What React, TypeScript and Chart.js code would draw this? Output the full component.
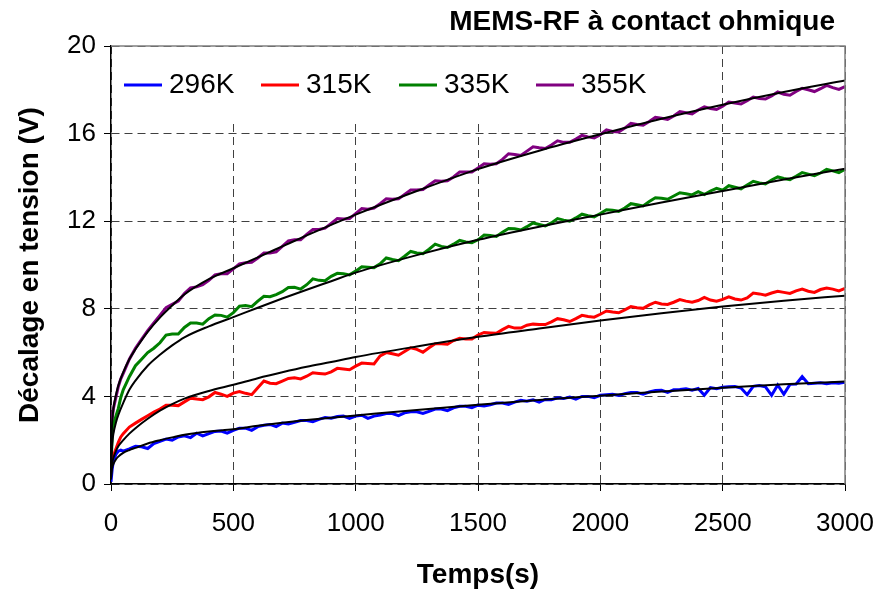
import React, { useEffect, useRef } from 'react';
import { Chart, registerables } from 'chart.js';

Chart.register(...registerables);

// ---- data (time in s, voltage shift in V) ----
const TIME = [0, 5, 10, 20, 30, 40, 50, 75, 100, 125, 150, 175, 200,
  225, 250, 275, 300, 325, 350, 375, 400,
  425, 450, 475, 500, 525, 550, 575, 600,
  625, 650, 675, 700, 725, 750, 775, 800,
  825, 850, 875, 900, 925, 950, 975, 1000,
  1025, 1050, 1075, 1100, 1125, 1150, 1175, 1200,
  1225, 1250, 1275, 1300, 1325, 1350, 1375, 1400,
  1425, 1450, 1475, 1500, 1525, 1550, 1575, 1600,
  1625, 1650, 1675, 1700, 1725, 1750, 1775, 1800,
  1825, 1850, 1875, 1900, 1925, 1950, 1975, 2000,
  2025, 2050, 2075, 2100, 2125, 2150, 2175, 2200,
  2225, 2250, 2275, 2300, 2325, 2350, 2375, 2400,
  2425, 2450, 2475, 2500, 2525, 2550, 2575, 2600,
  2625, 2650, 2675, 2700, 2725, 2750, 2775, 2800,
  2825, 2850, 2875, 2900, 2925, 2950, 2975, 3000];

const V296 = [0.1, 0.7, 1.05, 1.35, 1.5, 1.55, 1.5, 1.6, 1.72, 1.7, 1.62, 1.85, 1.95,
  2.05, 2.0, 2.15, 2.2, 2.12, 2.32, 2.2, 2.3,
  2.4, 2.42, 2.32, 2.45, 2.55, 2.55, 2.45, 2.62,
  2.68, 2.72, 2.62, 2.78, 2.74, 2.82, 2.9, 2.9,
  2.84, 2.95, 3.04, 3.0, 3.08, 3.1, 3.0, 3.1,
  3.14, 3.0, 3.1, 3.15, 3.22, 3.22, 3.12, 3.25,
  3.3, 3.3, 3.22, 3.32, 3.42, 3.42, 3.35, 3.48,
  3.55, 3.55, 3.48, 3.6, 3.56, 3.62, 3.7, 3.7,
  3.63, 3.74, 3.82, 3.78, 3.84, 3.74, 3.86, 3.85,
  3.94, 3.9, 3.97, 3.88, 4.0, 4.0, 3.94, 4.05,
  4.08, 4.1, 4.04, 4.12, 4.18, 4.18, 4.1, 4.2,
  4.27, 4.28, 4.18, 4.3, 4.32, 4.35, 4.28, 4.36,
  4.05, 4.4, 4.35, 4.42, 4.44, 4.45, 4.38, 4.08,
  4.46, 4.5, 4.44, 4.05, 4.52, 4.1, 4.55, 4.56,
  4.9, 4.58, 4.6, 4.62, 4.58, 4.62, 4.6, 4.65];

const V315 = [0.4, 1.0, 1.3, 1.6, 1.9, 2.15, 2.3, 2.6, 2.78, 2.95, 3.12, 3.28, 3.42,
  3.6, 3.6, 3.58, 3.75, 3.92, 3.88, 3.85, 3.98,
  4.18, 4.1, 4.0, 4.15, 4.22, 4.14, 4.08, 4.4,
  4.7, 4.6, 4.58, 4.7, 4.82, 4.85, 4.8, 4.92,
  5.08, 5.05, 5.02, 5.12, 5.28, 5.25, 5.22, 5.38,
  5.52, 5.5, 5.48, 5.85, 6.0, 5.95, 5.88, 6.05,
  6.22, 6.15, 6.02, 6.22, 6.4, 6.4, 6.38, 6.55,
  6.65, 6.62, 6.62, 6.8, 6.92, 6.9, 6.88, 7.05,
  7.2, 7.12, 7.12, 7.25, 7.3, 7.28, 7.28, 7.4,
  7.55, 7.5, 7.42, 7.55, 7.7, 7.65, 7.62, 7.75,
  7.9, 7.85, 7.82, 7.95, 8.1, 8.05, 8.02, 8.18,
  8.3, 8.22, 8.2, 8.3, 8.42, 8.35, 8.3, 8.38,
  8.52, 8.4, 8.35, 8.43, 8.55, 8.45, 8.4, 8.5,
  8.72, 8.68, 8.62, 8.72, 8.8, 8.75, 8.7, 8.82,
  8.9, 8.8, 8.75, 8.88, 8.95, 8.9, 8.82, 8.93];

const V335 = [0.8, 2.2, 2.7, 3.1, 3.45, 3.95, 4.3, 4.9, 5.4, 5.7, 6.0, 6.2, 6.45,
  6.8, 6.85, 6.85, 7.15, 7.35, 7.35, 7.3, 7.55,
  7.72, 7.7, 7.62, 7.82, 8.12, 8.15, 8.1, 8.35,
  8.57, 8.55, 8.65, 8.78, 8.97, 8.98, 8.9, 9.1,
  9.37, 9.3, 9.28, 9.48, 9.62, 9.6, 9.55, 9.72,
  9.92, 9.9, 9.88, 10.05, 10.32, 10.25, 10.2, 10.4,
  10.62, 10.55, 10.52, 10.72, 10.95, 10.85, 10.8, 10.95,
  11.12, 11.05, 11.02, 11.15, 11.37, 11.35, 11.3, 11.5,
  11.67, 11.65, 11.6, 11.75, 11.92, 11.85, 11.78, 11.92,
  12.12, 12.05, 12.0, 12.15, 12.32, 12.25, 12.2, 12.35,
  12.52, 12.5, 12.45, 12.6, 12.8, 12.75, 12.7, 12.9,
  13.07, 13.05, 13.0, 13.15, 13.3, 13.25, 13.2, 13.35,
  13.22, 13.38, 13.5, 13.42, 13.62, 13.55, 13.48, 13.65,
  13.82, 13.75, 13.7, 13.88, 14.02, 13.95, 13.9, 14.05,
  14.22, 14.15, 14.08, 14.2, 14.37, 14.3, 14.22, 14.37];

const V355 = [1.0, 3.0, 3.45, 3.95, 4.45, 4.8, 5.05, 5.7, 6.2, 6.6, 7.0, 7.35, 7.7,
  8.05, 8.2, 8.35, 8.7, 8.95, 9.0, 9.1, 9.3,
  9.55, 9.6, 9.6, 9.82, 10.05, 10.1, 10.12, 10.32,
  10.55, 10.55, 10.6, 10.85, 11.1, 11.15, 11.15, 11.4,
  11.62, 11.62, 11.68, 11.9, 12.12, 12.1, 12.12, 12.35,
  12.58, 12.55, 12.6, 12.8, 13.02, 13.0, 13.02, 13.22,
  13.42, 13.42, 13.45, 13.65, 13.85, 13.82, 13.85, 14.02,
  14.25, 14.25, 14.25, 14.43, 14.62, 14.6, 14.62, 14.82,
  15.08, 15.05, 15.0, 15.2, 15.4, 15.35, 15.32, 15.48,
  15.67, 15.6, 15.6, 15.75, 15.92, 15.85, 15.8, 15.95,
  16.17, 16.1, 16.08, 16.25, 16.47, 16.42, 16.38, 16.55,
  16.74, 16.7, 16.65, 16.8, 17.0, 16.95, 16.9, 17.08,
  17.22, 17.15, 17.1, 17.25, 17.44, 17.4, 17.35, 17.5,
  17.67, 17.6, 17.58, 17.72, 17.9, 17.8, 17.75, 17.92,
  18.07, 18.0, 17.92, 18.05, 18.2, 18.1, 18.02, 18.15];

// fitted curves (black)
const FIT_TIME = [0, 2, 5, 10, 20, 30, 50, 75, 100, 150, 200, 250, 300, 400, 500, 600, 700, 800, 900, 1000,
  1250, 1500, 1750, 2000, 2250, 2500, 2750, 3000];
const FIT296 = [0.3, 0.55, 0.75, 0.92, 1.12, 1.25, 1.42, 1.55, 1.65, 1.85, 2.0, 2.13, 2.25, 2.4, 2.5, 2.66, 2.8, 2.92, 3.03, 3.13,
  3.38, 3.62, 3.84, 4.03, 4.22, 4.4, 4.55, 4.68];
const FIT315 = [0.2, 0.6, 0.95, 1.2, 1.5, 1.72, 2.0, 2.3, 2.55, 2.98, 3.35, 3.65, 3.9, 4.25, 4.53, 4.83, 5.1, 5.35, 5.57, 5.8,
  6.28, 6.72, 7.1, 7.47, 7.8, 8.1, 8.37, 8.6];
const FIT335 = [0.3, 1.2, 1.85, 2.3, 2.8, 3.15, 3.7, 4.3, 4.72, 5.4, 5.9, 6.33, 6.7, 7.2, 7.62, 8.05, 8.47, 8.87, 9.26, 9.65,
  10.45, 11.15, 11.75, 12.3, 12.85, 13.38, 13.9, 14.4];
const FIT355 = [0.5, 2.0, 2.85, 3.45, 4.05, 4.5, 5.1, 5.7, 6.15, 6.95, 7.6, 8.15, 8.65, 9.35, 9.85, 10.35, 10.85, 11.35, 11.83, 12.3,
  13.38, 14.38, 15.22, 15.97, 16.68, 17.32, 17.9, 18.42];

const SERIES_LABELS = ['296K', '315K', '335K', '355K'];
const SERIES_COLORS = ['#0000ff', '#ff0000', '#008000', '#800080'];
const SERIES_DATA = [V296, V315, V335, V355];
const FIT_DATA = [FIT296, FIT315, FIT335, FIT355];

const TITLE = 'MEMS-RF à contact ohmique';
const X_TITLE = 'Temps(s)';
const Y_TITLE = 'Décalage en tension (V)';

const FONT = '"Liberation Sans", Arial, sans-serif';

const toPoints = (xs: number[], ys: number[]) => xs.map((x, i) => ({ x, y: ys[i] }));

const decorPlugin = {
  id: 'decor',
  beforeDatasetsDraw(chart: any) {
    const { ctx, chartArea } = chart;
    ctx.save();
    ctx.fillStyle = '#ffffff';
    ctx.fillRect(chartArea.left + 1, chartArea.top + 1, 660 - chartArea.left, 121 - chartArea.top);
    const lineStarts = [124, 261, 399, 536];
    ctx.font = `28px ${FONT}`;
    ctx.textBaseline = 'middle';
    ctx.textAlign = 'left';
    SERIES_LABELS.forEach((lab, i) => {
      ctx.strokeStyle = SERIES_COLORS[i];
      ctx.lineWidth = 3;
      ctx.beginPath();
      ctx.moveTo(lineStarts[i], 85);
      ctx.lineTo(lineStarts[i] + 38, 85);
      ctx.stroke();
      ctx.fillStyle = '#000';
      ctx.fillText(lab, lineStarts[i] + 45, 85);
    });
    ctx.restore();
  },
  afterDraw(chart: any) {
    const { ctx, chartArea } = chart;
    ctx.save();
    ctx.strokeStyle = '#808080';
    ctx.lineWidth = 1.5;
    ctx.beginPath();
    ctx.moveTo(chartArea.left, chartArea.top);
    ctx.lineTo(chartArea.right, chartArea.top);
    ctx.lineTo(chartArea.right, chartArea.bottom);
    ctx.stroke();
    ctx.fillStyle = '#000';
    ctx.font = `bold 28px ${FONT}`;
    ctx.textAlign = 'right';
    ctx.textBaseline = 'middle';
    ctx.fillText(TITLE, 835, 22);
    ctx.textAlign = 'center';
    ctx.fillText(X_TITLE, 478, 575);
    ctx.translate(30, 265);
    ctx.rotate(-Math.PI / 2);
    ctx.fillText(Y_TITLE, 0, 0);
    ctx.restore();
  },
};

export default function App() {
  const ref = useRef<HTMLCanvasElement | null>(null);
  useEffect(() => {
    if (!ref.current) return;
    const datasets: any[] = [];
    SERIES_DATA.forEach((vals, i) => {
      datasets.push({
        label: SERIES_LABELS[i],
        data: toPoints(TIME, vals),
        borderColor: SERIES_COLORS[i],
        backgroundColor: SERIES_COLORS[i],
        borderWidth: 3,
        pointRadius: 0,
        tension: 0,
        order: 2,
      });
    });
    FIT_DATA.forEach((vals, i) => {
      datasets.push({
        label: 'fit ' + SERIES_LABELS[i],
        data: toPoints(FIT_TIME, vals),
        borderColor: '#000000',
        borderWidth: 2,
        pointRadius: 0,
        cubicInterpolationMode: 'monotone',
        order: 1,
      });
    });
    const chart = new Chart(ref.current, {
      type: 'line',
      data: { datasets },
      options: {
        animation: false,
        responsive: false,
        devicePixelRatio: 1,
        layout: { padding: { top: 46, right: 35, left: 0, bottom: 0 } },
        plugins: { legend: { display: false }, tooltip: { enabled: false }, title: { display: false } },
        scales: {
          x: {
            type: 'linear',
            min: 0,
            max: 3000,
            afterFit: (s: any) => { s.height = 108; s.paddingRight = 30; s.paddingLeft = 30; },
            ticks: { stepSize: 500, color: '#000', font: { family: FONT, size: 26 }, padding: 17, maxRotation: 0,
              callback: (v: any) => String(v) },
            grid: { color: '#404040', lineWidth: 1, tickColor: '#000', tickLength: 7, tickWidth: 1 },
            border: { display: true, color: '#000', width: 1.5, dash: [8, 5] },
          },
          y: {
            type: 'linear',
            min: 0,
            max: 20,
            afterFit: (s: any) => { s.width = 111; },
            ticks: { stepSize: 4, color: '#000', font: { family: FONT, size: 26 }, padding: 8,
              callback: (v: any) => String(v) },
            grid: { color: '#404040', lineWidth: 1, tickColor: '#000', tickLength: 7, tickWidth: 1 },
            border: { display: true, color: '#000', width: 1.5, dash: [8, 5] },
          },
        },
      },
      plugins: [decorPlugin],
    });
    return () => chart.destroy();
  }, []);
  return (
    <div style={{ position: 'fixed', left: 0, top: 0, width: 880, height: 592, background: '#fff' }}>
      <canvas ref={ref} width={880} height={592} style={{ display: 'block' }} />
    </div>
  );
}
